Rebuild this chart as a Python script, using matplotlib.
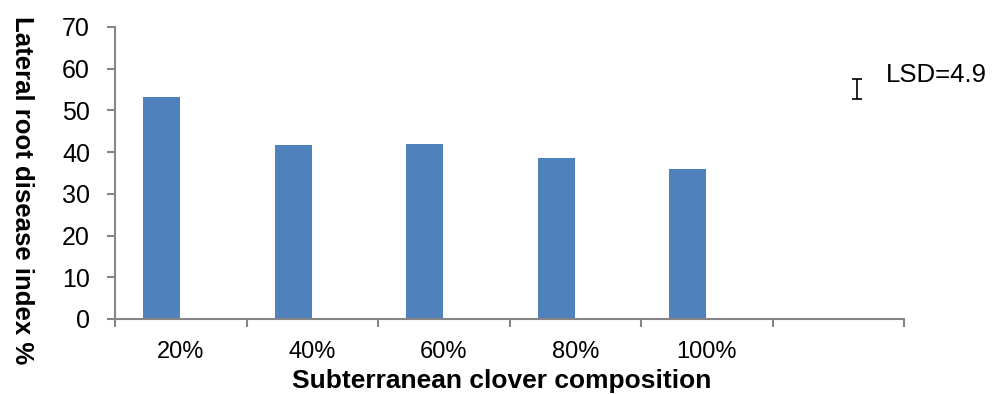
import numpy as np
from matplotlib import pyplot as plt

categories = ['20%', '40%', '60%', '80%', '100%', '']
disease_index = [53.2, 41.7, 42.0, 38.5, 35.9]
lsd = 4.9
lsd_mean = 55.2

bar_color = '#4F81BD'
axis_color = '#868686'

fig = plt.figure(figsize=(9.94, 3.94), dpi=100)
ax = fig.add_axes([115 / 994, 75 / 394, 789 / 994, 292 / 394])

x = np.arange(len(categories))
# two-slot clusters: the bars sit in the left slot, the LSD bar in the right one
ax.bar(x[:len(disease_index)] - 0.145, disease_index, width=0.28, color=bar_color)
ax.errorbar(x[-1] + 0.14, lsd_mean, yerr=lsd / 2, fmt='none', ecolor='black',
            elinewidth=1.2, capsize=3.5, capthick=1.2)
ax.text(x[-1] + 0.36, lsd_mean + 3.3, 'LSD=%.1f' % lsd, fontsize=18.5,
        family='Liberation Sans', va='center', ha='left')

ax.set_xlim(-0.5, len(categories) - 0.5)
ax.set_ylim(0, 70)
ax.set_yticks(np.arange(0, 71, 10))
ax.set_xticks(x)
ax.set_xticklabels(categories)
ax.set_xticks(np.arange(-0.5, len(categories), 1), minor=True)

for side in ['top', 'right']:
    ax.spines[side].set_visible(False)
for side in ['left', 'bottom']:
    ax.spines[side].set_color(axis_color)
    ax.spines[side].set_linewidth(1.5)

ax.tick_params(axis='x', which='major', length=0, pad=16, labelsize=17)
ax.tick_params(axis='x', which='minor', length=6, width=1.5, color=axis_color)
ax.tick_params(axis='y', length=6, width=1.5, color=axis_color, pad=12, labelsize=18)
for lbl in ax.get_xticklabels() + ax.get_yticklabels():
    lbl.set_family('Liberation Sans')

fig.text(502 / 994, 1 - 381 / 394, 'Subterranean clover composition', fontsize=19,
         fontweight='bold', family='Liberation Sans', ha='center', va='center')
fig.text(22 / 994, 1 - 190 / 394, 'Lateral root disease index %', fontsize=18.5,
         fontweight='bold', family='Liberation Sans', ha='center', va='center',
         rotation=270)

plt.savefig('out.png', dpi=100)
